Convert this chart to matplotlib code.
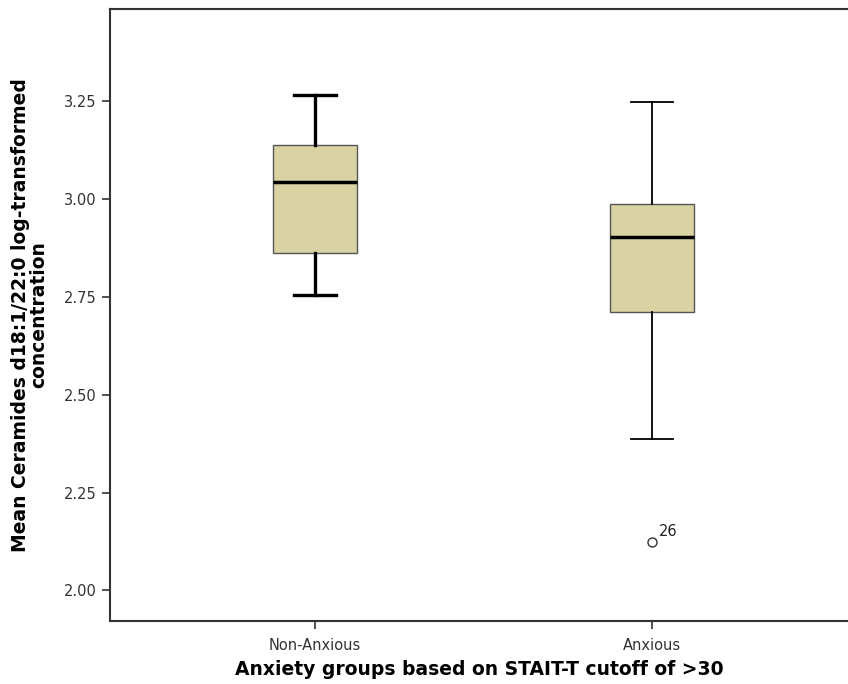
import matplotlib
matplotlib.use('Agg')
import matplotlib.pyplot as plt

groups = ['Non-Anxious', 'Anxious']
whisker_low = [2.754, 2.386]
q1 = [2.862, 2.710]
median = [3.043, 2.901]
q3 = [3.138, 2.986]
whisker_high = [3.265, 3.248]
outliers = [[], [2.124]]
outlier_labels = [[], ['26']]

yticks = [2.00, 2.25, 2.50, 2.75, 3.00, 3.25]

plt.rcParams['font.family'] = ['DejaVu Sans']

fig = plt.figure(figsize=(8.48, 6.84), dpi=100)
ax = fig.add_axes([110 / 848, 1 - 621 / 684, 1 - 110 / 848, (621 - 8.7) / 684])

stats = []
for i, g in enumerate(groups):
    stats.append({'label': g, 'whislo': whisker_low[i], 'q1': q1[i], 'med': median[i],
                  'q3': q3[i], 'whishi': whisker_high[i], 'fliers': outliers[i]})

pos = [1, 2]
bp = ax.bxp(stats, positions=pos, widths=0.25, patch_artist=True, capwidths=0.125,
            boxprops=dict(facecolor='#d9d3a4', edgecolor='#555555', linewidth=1.0),
            medianprops=dict(color='black', linewidth=2.5),
            whiskerprops=dict(color='black', linewidth=1.3),
            capprops=dict(color='black', linewidth=1.3),
            flierprops=dict(marker='o', markersize=6.5, markerfacecolor='white',
                            markeredgecolor='#333333', markeredgewidth=1.0))
# first box drawn with heavier whiskers like the original
for art in bp['whiskers'][:2] + bp['caps'][:2]:
    art.set_linewidth(2.4)

for i, labs in enumerate(outlier_labels):
    for v, t in zip(outliers[i], labs):
        ax.annotate(t, (pos[i], v), xytext=(5, 4), textcoords='offset points',
                    fontsize=10.5, color='#222222')

ax.set_xlim(0.392, 2.582)
ax.set_ylim(1.922, 3.485)
ax.set_yticks(yticks)
ax.set_yticklabels(['%.2f' % t for t in yticks], fontsize=10.5, color='#333333')
ax.set_xticks(pos)
ax.set_xticklabels(groups, fontsize=10.5, color='#333333')
ax.tick_params(direction='out', length=6, width=1.2, color='#333333')
ax.tick_params(axis='x', pad=6)

for s in ['left', 'bottom', 'top']:
    ax.spines[s].set_linewidth(1.5)
    ax.spines[s].set_color('#333333')
ax.spines['right'].set_visible(False)

ax.set_ylabel('Mean Ceramides d18:1/22:0 log-transformed\nconcentration',
              fontsize=13.5, fontweight='bold', labelpad=11, linespacing=0.95)
ax.set_xlabel('Anxiety groups based on STAIT-T cutoff of >30',
              fontsize=13.5, fontweight='bold', labelpad=5)

fig.savefig('out.png', dpi=100)
